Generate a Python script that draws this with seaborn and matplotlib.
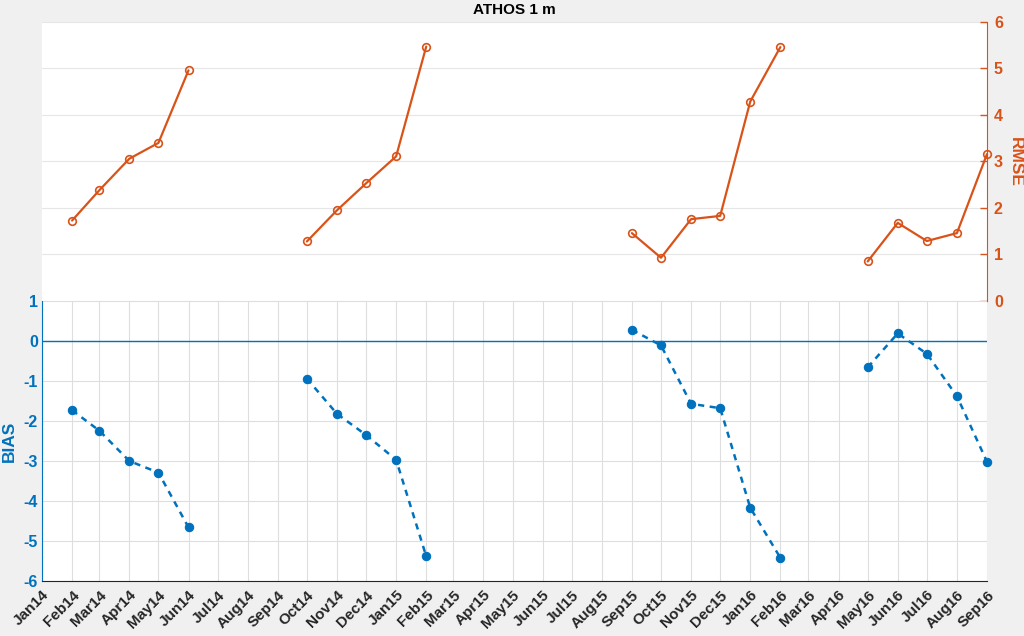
import matplotlib
matplotlib.use("Agg")
import matplotlib.pyplot as plt
import matplotlib.dates as mdates
import seaborn as sns
import pandas as pd
import numpy as np

# ---- data ----
months = ["2014-02", "2014-03", "2014-04", "2014-05", "2014-06",
          "2014-10", "2014-11", "2014-12", "2015-01", "2015-02",
          "2015-09", "2015-10", "2015-11", "2015-12", "2016-01", "2016-02",
          "2016-05", "2016-06", "2016-07", "2016-08", "2016-09"]
rmse = [1.73, 2.38, 3.06, 3.40, 4.96,
        1.28, 1.95, 2.53, 3.11, 5.47,
        1.46, 0.93, 1.76, 1.83, 4.29, 5.46,
        0.85, 1.68, 1.29, 1.46, 3.16]
bias = [-1.73, -2.24, -3.00, -3.29, -4.66,
        -0.94, -1.82, -2.35, -2.97, -5.38,
        0.28, -0.11, -1.57, -1.68, -4.17, -5.42,
        -0.66, 0.19, -0.32, -1.38, -3.02]
x_start, x_end = "2014-01-01", "2016-09-01"
title = "ATHOS 1 m"

BLUE = "#0072BD"
ORANGE = "#D95319"
TXT = "#262626"

sns.set_style("white")
plt.rcParams["font.family"] = ["Liberation Sans", "DejaVu Sans"]
plt.rcParams["font.weight"] = "bold"
plt.rcParams["axes.unicode_minus"] = False

df = pd.DataFrame({"date": pd.to_datetime(months), "rmse": rmse, "bias": bias})
mi = df["date"].dt.year * 12 + df["date"].dt.month
df["seg"] = (mi.diff() != 1).cumsum()

fig = plt.figure(figsize=(10.24, 6.36), dpi=100, facecolor="#f0f0f0")
W, H = 1024, 636
L, R = 42, 987
ax_top = fig.add_axes([L / W, (H - 301) / H, (R - L) / W, (301 - 22) / H])
ax_bot = fig.add_axes([L / W, (H - 581) / H, (R - L) / W, (581 - 301) / H])

# ---- bottom axes: BIAS ----
ax_bot.set_facecolor("white")
ax_bot.axhline(0, color=BLUE, lw=1.0, zorder=2)
sns.lineplot(data=df, x="date", y="bias", units="seg", estimator=None,
             ax=ax_bot, color=BLUE, lw=1.8, linestyle=(0, (2.5, 2.2)),
             marker="o", markersize=6, markeredgecolor=BLUE,
             markerfacecolor=BLUE, markeredgewidth=0.8, legend=False,
             zorder=3, clip_on=False)
ax_bot.set_xlim(pd.Timestamp(x_start), pd.Timestamp(x_end))
ax_bot.set_ylim(-6, 1)
ax_bot.set_yticks(np.arange(-6, 2, 1))
ax_bot.xaxis.set_major_locator(mdates.MonthLocator())
ax_bot.xaxis.set_major_formatter(mdates.DateFormatter("%b%y"))
ax_bot.grid(True, color="#dedede", lw=0.8)
ax_bot.set_axisbelow(True)
for s in ["top", "right"]:
    ax_bot.spines[s].set_visible(False)
ax_bot.spines["left"].set_color(BLUE)
ax_bot.spines["bottom"].set_color(TXT)
ax_bot.tick_params(axis="x", direction="in", length=5, width=1, colors=TXT,
                   labelsize=11, pad=5)
ax_bot.tick_params(axis="y", direction="in", length=5, width=1, colors=BLUE,
                   labelsize=11.5, pad=3)
for t in ax_bot.get_xticklabels():
    t.set_rotation(45)
    t.set_ha("right")
    t.set_rotation_mode("anchor")
    t.set_fontweight("bold")
for t in ax_bot.get_yticklabels():
    t.set_fontweight("bold")
ax_bot.set_xlabel("")
ax_bot.set_ylabel("")

# ---- top axes: RMSE ----
ax_top.set_facecolor("white")
sns.lineplot(data=df, x="date", y="rmse", units="seg", estimator=None,
             ax=ax_top, color=ORANGE, lw=1.6,
             marker="o", markersize=5.5, markeredgecolor=ORANGE,
             markerfacecolor="none", markeredgewidth=1.2, legend=False,
             zorder=3, clip_on=False)
ax_top.set_xlim(pd.Timestamp(x_start), pd.Timestamp(x_end))
ax_top.set_ylim(0, 6)
ax_top.set_yticks(np.arange(0, 7, 1))
ax_top.yaxis.tick_right()
ax_top.set_xticks([])
ax_top.grid(True, axis="y", color="#e6e6e6", lw=0.8)
ax_top.set_axisbelow(True)
for s in ["top", "left", "bottom"]:
    ax_top.spines[s].set_visible(False)
ax_top.spines["right"].set_color(ORANGE)
ax_top.tick_params(axis="y", direction="in", length=5, width=1, colors=ORANGE,
                   labelsize=11.5, pad=5)
for t in ax_top.get_yticklabels():
    t.set_fontweight("bold")
ax_top.set_xlabel("")
ax_top.set_ylabel("")

# ---- axis labels and title ----
fig.text(9 / W, 1 - 441 / H, "BIAS", rotation=90, ha="center", va="center",
         fontsize=12.5, fontweight="bold", color=BLUE)
fig.text(1015 / W, 1 - 162 / H, "RMSE", rotation=270, ha="center", va="center",
         fontsize=12.5, fontweight="bold", color=ORANGE)
fig.text((L + (R - L) / 2) / W, 1 - 10 / H, title, ha="center", va="center",
         fontsize=11, fontweight="bold", color="black")

fig.savefig("out.png", dpi=100, facecolor=fig.get_facecolor())
